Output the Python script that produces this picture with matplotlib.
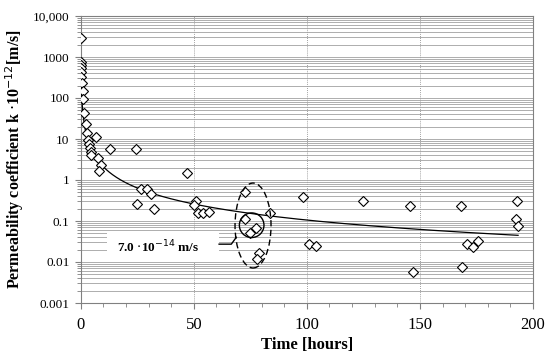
import numpy as np
import matplotlib
matplotlib.use("Agg")
import matplotlib.pyplot as plt
from matplotlib.patches import Ellipse, Rectangle
from matplotlib.ticker import FixedLocator, FixedFormatter, MultipleLocator, LogLocator

plt.rcParams["font.family"] = ["Liberation Serif", "DejaVu Serif"]

# tiempo [h] y coeficiente de permeabilidad k*10^-12 [m/s]
time_h = [0.1, 0.1, 0.1, 0.15, 0.2, 0.25, 0.6, 0.9, 1.2, 1.6, 2.2, 2.6,
          3.4, 3.8, 4.1, 4.5, 4.4, 6.6, 12.9, 24.4, 7.8, 9.0, 8.1, 47.0,
          26.6, 29.1, 30.9, 25.0, 32.3, 50.9, 50.0, 51.9, 54.1, 56.8,
          72.5, 72.8, 77.4, 74.7, 83.8, 78.8, 77.9, 98.2, 100.9, 104.1,
          125.0, 145.8, 146.8, 168.3, 168.6, 170.6, 173.3, 175.9,
          192.8, 192.7, 193.4]
perm_k = [2860, 770, 640, 530, 440, 320, 230, 150, 93, 42, 23, 14,
          9.5, 7.5, 5.9, 4.9, 4.1, 11, 5.6, 5.6, 3.4, 2.3, 1.7, 1.45,
          0.60, 0.60, 0.46, 0.255, 0.196, 0.31, 0.245, 0.159, 0.155, 0.169,
          0.52, 0.112, 0.069, 0.050, 0.154, 0.0163, 0.0116, 0.378, 0.027, 0.025,
          0.313, 0.232, 0.0056, 0.232, 0.0077, 0.027, 0.0236, 0.0325,
          0.313, 0.11, 0.077]

y_ticks = [0.001, 0.01, 0.1, 1, 10, 100, 1000, 10000]
y_labels = ["0.001", "0.01", "0.1", "1", "10", "100", "1000", "10,000"]

# linea de tendencia potencial k = a * t^b (parametros)
trend_a = 42.0
trend_b = -1.3
x_fit = np.linspace(min(time_h), max(time_h), 800)
y_fit = trend_a * x_fit ** trend_b

fig = plt.figure(figsize=(5.5, 3.56), dpi=100)
ax = fig.add_axes([80.7 / 550, 53 / 356, 452.3 / 550, 287 / 356])

ax.set_yscale("log")
ax.set_xlim(0, 200)
ax.set_ylim(0.001, 10000)

ax.yaxis.set_major_locator(FixedLocator(y_ticks))
ax.yaxis.set_major_formatter(FixedFormatter(y_labels))
ax.yaxis.set_minor_locator(LogLocator(base=10, subs=np.arange(2, 10)))
ax.yaxis.set_minor_formatter(plt.NullFormatter())
ax.xaxis.set_major_locator(MultipleLocator(50))
ax.xaxis.set_minor_locator(MultipleLocator(10))

ax.grid(True, which="both", axis="y", color="#a0a0a0", lw=0.6)
ax.grid(True, which="major", axis="x", color="#808080", lw=0.6, ls=(0, (1, 1.5)))
ax.set_axisbelow(True)

for s in ax.spines.values():
    s.set_color("#808080")
    s.set_linewidth(0.8)
ax.tick_params(axis="both", which="both", direction="out", colors="#808080",
               labelcolor="black")
ax.tick_params(axis="y", labelsize=9.5, pad=4)
ax.tick_params(axis="x", labelsize=12, pad=6)
ax.tick_params(which="major", length=4)
ax.tick_params(which="minor", length=3)

ax.plot(x_fit, y_fit, color="black", lw=0.9, zorder=3)
ax.plot(time_h, perm_k, ls="none", marker="D", ms=5.2, mfc="white",
        mec="black", mew=0.8, zorder=4)

# anotacion
ax.add_patch(Ellipse((0.381, 0.270), 0.0796, 0.296, transform=ax.transAxes,
                     fill=False, ec="black", lw=1.0, ls=(0, (4.5, 2.5)), zorder=5))
ax.add_patch(Ellipse((0.378, 0.271), 0.0544, 0.0857, transform=ax.transAxes,
                     fill=False, ec="black", lw=1.0, zorder=5))
ax.plot([0.344, 0.333, 0.306], [0.229, 0.205, 0.205], transform=ax.transAxes,
        color="black", lw=1.0, zorder=5)
ax.add_patch(Rectangle((0.058, 0.143), 0.248, 0.108, transform=ax.transAxes,
                       fc="white", ec="none", zorder=2))
ax.text(0.172, 0.194, r"7.0 $\cdot$10$^{-14}$ m/s", transform=ax.transAxes,
        ha="center", va="center", fontsize=9.5, fontweight="bold", zorder=6)

ax.set_xlabel("Time [hours]", fontsize=12, fontweight="bold", labelpad=3)
ax.set_ylabel(r"Permeability coefficient k $\cdot$10$^{-12}$[m/s]", fontsize=11.5,
              fontweight="bold", labelpad=5)

fig.savefig("out.png", dpi=100)
